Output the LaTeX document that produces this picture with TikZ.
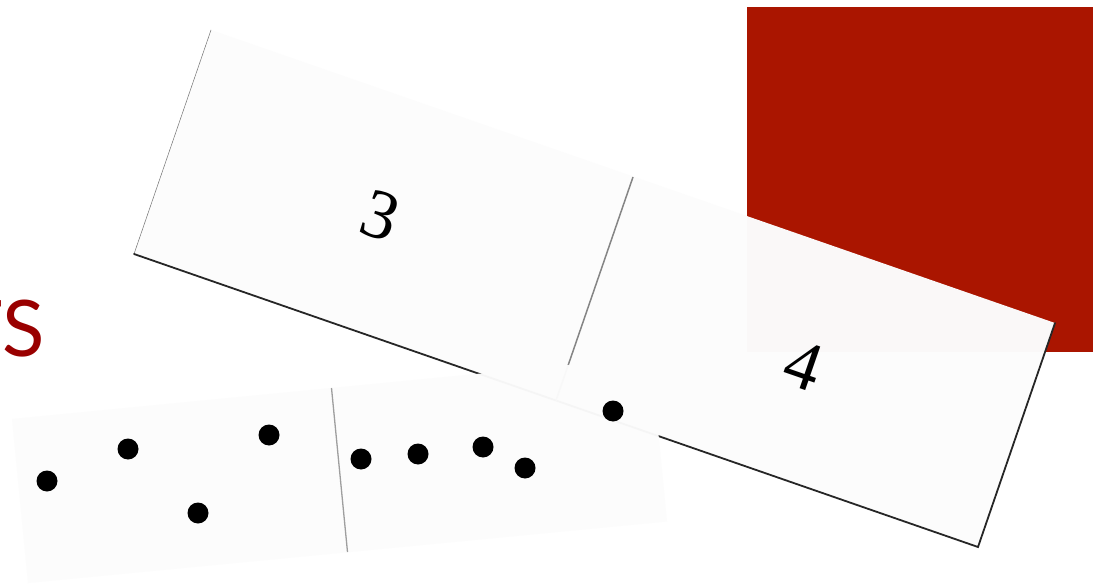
\documentclass[tikz,border=0pt]{standalone}
\usepackage{fontspec}
\newfontfamily\titlefont{Lato}
\newfontfamily\numfont{Liberation Serif}
\definecolor{squarered}{HTML}{AA1500}
\definecolor{titlered}{HTML}{990000}
\definecolor{tile}{HTML}{FCFCFC}
\tikzset{
  tilebody/.style={fill=tile, draw=none},
  shadowedge/.style={draw=black!85, line width=1.8pt, line cap=round},
  thinedge/.style={draw=black!55, line width=0.5pt},
  bigdivider/.style={draw=black!48, line width=1.5pt},
  smalldivider/.style={draw=black!38, line width=1.3pt},
  pip/.style={circle, fill=black, inner sep=0pt, minimum size=21pt},
  numeral/.style={font=\fontsize{70}{70}\selectfont\numfont, inner sep=0pt, rotate=-19.1},
}
\begin{document}
\begin{tikzpicture}[x=1pt,y=-1pt]
\useasboundingbox (0,0) rectangle (1105,585);
\clip (0,0) rectangle (1105,585);
\fill[white] (0,0) rectangle (1105,585);
% red square
\fill[squarered] (747,7) rectangle (1093,352);
% partial title text
\node[font=\titlefont\fontsize{78}{78}\selectfont, text=titlered, anchor=base east, inner sep=0pt] (title) at (45,356) {TS};
% big domino
\coordinate (BTL) at (211,30);
\coordinate (BBL) at (134,254);
\coordinate (BBR) at (978,547);
\coordinate (BTR) at (1055,323);
\coordinate (BTM) at (633,177);
\coordinate (BBM) at (556,400.5);
\fill[tilebody, fill opacity=0.985] (BTL) -- (BBL) -- (BBR) -- (BTR) -- cycle;
\draw[thinedge] (BTL) -- (BBL);
\draw[shadowedge] (BBL) -- (BBR) -- (BTR);
\draw[bigdivider] (BTM) -- (BBM);
\node[numeral] (three) at (381,216) {3};
\node[numeral] (four) at (804,365) {4};
% small domino
\coordinate (STL) at (12,419);
\coordinate (STR) at (651,357);
\coordinate (SBR) at (667,521.5);
\coordinate (SBL) at (28,583);
\coordinate (STM) at (331.5,388);
\coordinate (SBM) at (347.5,552);
\fill[tilebody, fill opacity=0.97] (STL) -- (SBL) -- (SBR) -- (STR) -- cycle;
\draw[smalldivider] (STM) -- (SBM);
% pips left half
\node[pip] (p1) at (47,481) {};
\node[pip] (p2) at (128,449) {};
\node[pip] (p3) at (198,513) {};
\node[pip] (p4) at (269,435) {};
% pips right half
\node[pip] (p5) at (361,459) {};
\node[pip] (p6) at (418,454) {};
\node[pip] (p7) at (483,447) {};
\node[pip] (p8) at (525,468) {};
\node[pip] (p9) at (613,411) {};
\end{tikzpicture}
\end{document}
